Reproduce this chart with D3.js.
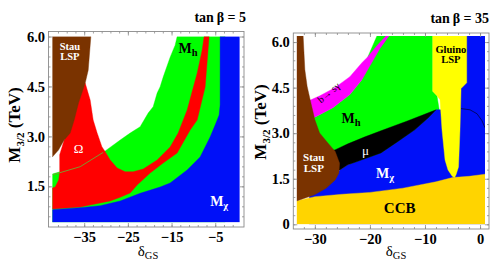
<!doctype html>
<html lang="en">
<head>
<meta charset="UTF-8">
<title>tan beta panels</title>
<style>
  body { margin: 0; background: #fff; }
  svg { display: block; font-family: "Liberation Serif", "Times New Roman", serif; }
</style>
</head>
<body>
<svg id="chart" width="498" height="271"></svg>
<script src="https://d3js.org/d3.v7.min.js"></script>
<script>
// ---- left panel (tan beta = 5): region boundaries as [deltaGS, M3/2 (TeV)] ----
const leftGreen = [[-42.3,1.87],[-35.92,2.11],[-30.65,2.52],[-26.76,2.89],[-24.48,3.10],[-22.19,3.29],
  [-20.35,3.70],[-19.21,3.89],[-18.30,4.30],[-17.61,4.49],[-16.92,4.78],[-15.32,5.38],[-14.18,5.74],
  [-13.72,6.0],[-2.74,6.0],[-2.74,0.42],[-42.3,0.42]];
const leftRed = [[-34.77,4.60],[-33.63,4.09],[-32.94,3.49],[-32.03,3.10],[-30.95,2.69],[-30.19,2.54],
  [-29.05,2.29],[-27.45,2.05],[-25.62,1.94],[-23.79,1.94],[-21.50,2.02],[-18.30,2.29],[-15.32,2.68],
  [-13.49,3.10],[-11.43,3.79],[-9.14,4.90],[-8.00,5.59],[-7.54,6.0],[-6.40,6.0],[-7.31,4.48],
  [-9.14,3.49],[-10.74,3.19],[-13.72,2.50],[-16.92,2.20],[-19.90,1.90],[-22.87,1.54],[-24.48,1.30],
  [-26.76,1.17],[-29.05,1.06],[-31.34,1.00],[-35.92,0.88],[-42.3,0.82],[-42.3,1.45],[-41.64,1.48],
  [-40.84,1.69],[-40.61,1.92],[-40.61,2.45],[-39.58,2.89],[-38.2,3.28],[-36.83,4.00],[-35.0,4.60]];
const leftBlue = [[-42.3,0.80],[-35.92,0.86],[-31.34,0.92],[-26.76,1.06],[-22.19,1.29],[-17.61,1.48],
  [-15.32,1.60],[-11.43,1.99],[-8.46,2.38],[-6.17,2.98],[-5.02,3.34],[-4.11,3.64],[-3.88,3.94],
  [-3.88,6.0],[0.6,6.0],[0.6,0.42],[-42.3,0.42]];
const leftStau = [[-42.3,6.0],[-33.47,6.0],[-34.08,4.99],[-34.77,4.60],[-36.3,4.00],[-37.29,3.49],
  [-38.2,3.10],[-39.58,2.89],[-40.88,2.59],[-42.3,2.38]];
const leftOmegaEdge = [[-42.1,1.85],[-35.92,2.09],[-30.65,2.52]];

// ---- right panel (tan beta = 35) ----
const rightGreen = [[-31,3.55],[-30.18,3.51],[-26.73,3.84],[-23.64,4.27],[-21.45,4.76],[-20.73,5.22],
  [-20.36,5.52],[-18.73,6.2],[-8.6,6.2],[-8.6,4.38],[-7.82,4.23],[-7.27,3.61],[-7.27,2.0],[-31,2.0]];
const rightBsg = [[-31.6,4.1],[-31.09,4.07],[-29.09,4.23],[-26.36,4.50],[-23.64,4.86],[-21.45,5.32],
  [-20.36,5.52],[-18.73,5.88],[-17.09,6.2],[-16.55,6.2],[-18.18,5.79],[-20.0,5.22],[-21.45,4.76],
  [-23.64,4.27],[-26.73,3.84],[-30.18,3.51],[-31,3.5]];
const rightBlue = [[-31,0],[-31,1.0],[-26.5,1.6],[-25.45,1.79],[-24.0,1.96],[-21.82,2.1],[-18.0,2.35],
  [-14.91,2.73],[-11.87,3.11],[-9.45,3.50],[-8.0,3.77],[-6.36,3.77],[-6.36,6.2],[0.9,6.2],[0.9,0]];
const rightMu = [[-27,2.43],[-26.36,2.45],[-24.0,2.65],[-20.9,2.88],[-18.0,3.08],[-13.09,3.41],
  [-8.0,3.77],[-9.45,3.50],[-11.87,3.11],[-14.91,2.73],[-18.0,2.35],[-21.82,2.1],[-24.0,1.96],
  [-25.45,1.79],[-26.2,1.77]];
const rightGluino = [[-8.6,6.2],[-2.42,6.2],[-2.42,4.66],[-3.45,4.47],[-3.64,3.11],[-3.91,1.89],
  [-4.36,1.63],[-4.64,1.53],[-5.09,1.59],[-5.82,1.79],[-6.36,2.12],[-6.91,3.11],[-7.27,4.10],
  [-7.82,4.23],[-8.6,4.38]];
const rightCCB = [[-33.3,0.77],[-30.0,0.91],[-25,0.99],[-20,1.05],[-14,1.19],[-8,1.40],[-5,1.54],
  [-2,1.58],[0.9,1.65],[0.9,0],[-33.3,0]];
const rightStau = [[-33.3,6.2],[-32.13,6.2],[-31.82,5.09],[-31.4,4.54],[-30.73,4.0],[-30.0,3.44],
  [-29.14,3.01],[-27.64,2.68],[-26.31,2.40],[-25.51,2.01],[-25.64,1.68],[-26.31,1.46],[-27.95,1.19],
  [-30.05,0.97],[-33.3,0.77]];
const rightArc = [[-3.45,3.81],[-1.82,3.77],[-0.55,3.64],[0.36,3.41],[0.9,3.18]];

// ---- ticks ----
const leftXTicks = [-35, -25, -15, -5];
const leftXLabels = ["\u221235", "\u221225", "\u221215", "\u22125"];
const leftYTicks = [1.5, 3.0, 4.5, 6.0];
const leftYLabels = ["1.5", "3.0", "4.5", "6.0"];
const rightXTicks = [-30, -20, -10, 0];
const rightXLabels = ["\u221230", "\u221220", "\u221210", "0"];
const rightYTicks = [0, 1.5, 3.0, 4.5, 6.0];
const rightYLabels = ["0", "1.5", "3.0", "4.5", "6.0"];

const svg = d3.select("#chart");

function drawPanel(cfg) {
    const x = d3.scaleLinear().domain(cfg.xDomain).range([cfg.plot[0], cfg.plot[1]]);
    const y = d3.scaleLinear().domain(cfg.yDomain).range([cfg.plot[3], cfg.plot[2]]);
    const line = d3.line().x(d => x(d[0])).y(d => y(d[1]));

    const g = svg.append("g");
    g.append("clipPath").attr("id", cfg.id + "-clip")
        .append("rect")
        .attr("x", cfg.plot[0]).attr("y", cfg.plot[2])
        .attr("width", cfg.plot[1] - cfg.plot[0]).attr("height", cfg.plot[3] - cfg.plot[2]);

    const area = g.append("g").attr("clip-path", `url(#${cfg.id}-clip)`);
    cfg.regions.forEach(r => {
        area.append("path")
            .attr("d", line(r.pts) + "Z")
            .attr("fill", r.color)
            .attr("stroke", r.color)
            .attr("stroke-width", 0.4);
    });
    cfg.lines.forEach(l => {
        area.append("path")
            .attr("d", line(l.pts))
            .attr("fill", "none")
            .attr("stroke", l.color)
            .attr("stroke-width", l.width);
    });

    // frame with inward ticks on all four sides
    const f = cfg.frame;
    const xMinor = d3.range(cfg.xMinor[0], cfg.xMinor[1] + 0.001, cfg.xMinor[2]);
    const yMinor = d3.range(cfg.yMinor[0], cfg.yMinor[1] + 0.001, cfg.yMinor[2]);

    const styleAxis = sel => {
        sel.select(".domain").remove();
        sel.selectAll(".tick line").attr("stroke", "#8a8a8a").attr("stroke-width", 0.8);
        sel.attr("font-family", null).attr("font-size", null);
        sel.selectAll(".tick text")
            .attr("fill", "#000")
            .style("font-size", "14.5px")
            .style("font-weight", "bold");
    };

    g.append("g").attr("transform", `translate(0,${f[3]})`)
        .call(d3.axisBottom(x).tickValues(xMinor).tickSize(-2).tickFormat("")).call(styleAxis);
    g.append("g").attr("transform", `translate(0,${f[3]})`)
        .call(d3.axisBottom(x).tickValues(cfg.xTicks).tickSize(-4).tickPadding(5)
            .tickFormat((d, i) => cfg.xLabels[i])).call(styleAxis);
    g.append("g").attr("transform", `translate(0,${f[2]})`)
        .call(d3.axisTop(x).tickValues(xMinor).tickSize(-2).tickFormat("")).call(styleAxis);
    g.append("g").attr("transform", `translate(0,${f[2]})`)
        .call(d3.axisTop(x).tickValues(cfg.xTicks).tickSize(-4).tickFormat("")).call(styleAxis);

    g.append("g").attr("transform", `translate(${f[0]},0)`)
        .call(d3.axisLeft(y).tickValues(yMinor).tickSize(-2).tickFormat("")).call(styleAxis);
    g.append("g").attr("transform", `translate(${f[0]},0)`)
        .call(d3.axisLeft(y).tickValues(cfg.yTicks).tickSize(-4).tickPadding(3.5)
            .tickFormat((d, i) => cfg.yLabels[i])).call(styleAxis);
    g.append("g").attr("transform", `translate(${f[1]},0)`)
        .call(d3.axisRight(y).tickValues(yMinor).tickSize(-2).tickFormat("")).call(styleAxis);
    g.append("g").attr("transform", `translate(${f[1]},0)`)
        .call(d3.axisRight(y).tickValues(cfg.yTicks).tickSize(-4).tickFormat("")).call(styleAxis);

    g.append("rect")
        .attr("x", f[0]).attr("y", f[2])
        .attr("width", f[1] - f[0]).attr("height", f[3] - f[2])
        .attr("fill", "none").attr("stroke", "#8a8a8a").attr("stroke-width", 0.9);

    // region labels (multi-line labels share one text element)
    cfg.labels.forEach(lb => {
        const px = x(lb.at[0]), py = y(lb.at[1]);
        const t = g.append("text")
            .attr("x", px).attr("y", py)
            .attr("fill", lb.color)
            .attr("text-anchor", lb.anchor || "middle")
            .style("font-size", lb.size + "px")
            .style("font-weight", lb.bold ? "bold" : "normal");
        if (lb.rotate) t.attr("transform", `rotate(${lb.rotate},${px},${py})`);
        if (Array.isArray(lb.text)) {
            lb.text.forEach((s, i) => {
                t.append("tspan").attr("x", px).attr("dy", i === 0 ? 0 : lb.lead).text(s);
            });
        } else {
            t.append("tspan").text(lb.text);
        }
        if (lb.sub) {
            t.append("tspan").attr("dy", 3).style("font-size", (lb.size * 0.75) + "px").text(lb.sub);
        }
    });

    // title
    g.append("text")
        .attr("x", cfg.title[0]).attr("y", cfg.title[1])
        .attr("text-anchor", "end")
        .style("font-size", "14px").style("font-weight", "bold")
        .text("tan\u2009\u03b2 = " + cfg.tanb);

    // axis titles
    const yl = g.append("text")
        .attr("transform", `translate(${cfg.yTitle[0]},${cfg.yTitle[1]}) rotate(-90)`)
        .attr("text-anchor", "middle")
        .style("font-size", "17px").style("font-weight", "bold");
    yl.append("tspan").text("M");
    yl.append("tspan").attr("dy", 4).style("font-size", "11px").text("3/2");
    yl.append("tspan").attr("dy", -4).text(" (TeV)");

    const xl = g.append("text")
        .attr("x", cfg.xTitle[0]).attr("y", cfg.xTitle[1])
        .attr("text-anchor", "middle")
        .style("font-size", "15px");
    xl.append("tspan").text("\u03b4");
    xl.append("tspan").attr("dy", 3).style("font-size", "10.5px").text("GS");
}

drawPanel({
    id: "left",
    plot: [52.3, 239.7, 36.5, 222.3],
    frame: [48.5, 244, 31.5, 227],
    xDomain: [-42.3, 0.6], yDomain: [0.42, 6.0],
    xTicks: leftXTicks, xLabels: leftXLabels, yTicks: leftYTicks, yLabels: leftYLabels,
    xMinor: [-41, 0, 2], yMinor: [0.6, 6.0, 0.3],
    regions: [
        { pts: leftGreen, color: "#00ff00" },
        { pts: leftRed, color: "#ff0000" },
        { pts: leftBlue, color: "#0010f8" },
        { pts: leftStau, color: "#7a3300" }
    ],
    lines: [{ pts: leftOmegaEdge, color: "#7c9a2c", width: 1 }],
    labels: [
        { text: ["Stau", "LSP"], lead: 9.5, at: [-38.27, 5.58], color: "#fff", size: 10.5, bold: true },
        { text: "\u03a9", at: [-36.3, 2.51], color: "#fff", size: 13 },
        { text: "M", sub: "h", at: [-13.42, 5.5], color: "#000", size: 14, bold: true, anchor: "start" },
        { text: "M", sub: "\u03c7", at: [-6.17, 0.91], color: "#fff", size: 14, bold: true, anchor: "start" }
    ],
    title: [246, 22], tanb: "5",
    yTitle: [20, 125], xTitle: [148, 256]
});

drawPanel({
    id: "right",
    plot: [296.7, 485, 36, 224.3],
    frame: [293.3, 489, 33, 229],
    xDomain: [-33.3, 0.9], yDomain: [0, 6.2],
    xTicks: rightXTicks, xLabels: rightXLabels, yTicks: rightYTicks, yLabels: rightYLabels,
    xMinor: [-32, 0, 2], yMinor: [0, 6.0, 0.3],
    regions: [
        { pts: rightGreen, color: "#00ff00" },
        { pts: rightBsg, color: "#ff00ff" },
        { pts: rightBlue, color: "#0010f8" },
        { pts: rightMu, color: "#000000" },
        { pts: rightGluino, color: "#ffff00" },
        { pts: rightCCB, color: "#ffd400" },
        { pts: rightStau, color: "#7a3300" }
    ],
    lines: [{ pts: rightArc, color: "#000030", width: 0.7 }],
    labels: [
        { text: ["Stau", "LSP"], lead: 11, at: [-30.2, 2.1], color: "#fff", size: 11, bold: true },
        { text: "\u03bc", at: [-20.8, 2.29], color: "#fff", size: 13 },
        { text: "M", sub: "h", at: [-25.15, 3.33], color: "#000", size: 14, bold: true, anchor: "start" },
        { text: "M", sub: "\u03c7", at: [-18.9, 1.52], color: "#fff", size: 14, bold: true, anchor: "start" },
        { text: "CCB", at: [-14.6, 0.37], color: "#000", size: 15, bold: true },
        { text: ["Gluino", "LSP"], lead: 9.5, at: [-5.3, 5.64], color: "#000", size: 10.5, bold: true },
        { text: "b\u2192 s\u03b3", at: [-27.1, 4.25], color: "#000", size: 10, rotate: -40 }
    ],
    title: [489, 23], tanb: "35",
    yTitle: [266, 122], xTitle: [396, 256]
});
</script>
</body>
</html>
